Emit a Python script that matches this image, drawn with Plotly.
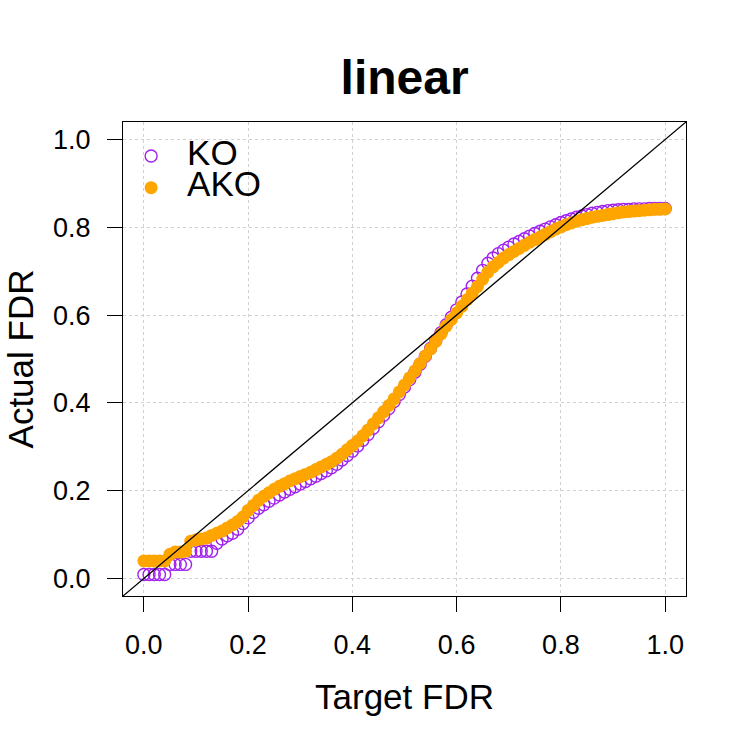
import plotly.graph_objects as go

# Target FDR grid (0.00 .. 1.00 by 0.01)
target_fdr = [round(i / 100, 2) for i in range(101)]

ko_fdr = [
    0.009, 0.009, 0.009, 0.009, 0.009, 0.032, 0.032, 0.032, 0.032, 0.062,
    0.062, 0.062, 0.062, 0.062, 0.080, 0.090, 0.097, 0.103, 0.112, 0.125,
    0.138, 0.150, 0.160, 0.168, 0.176, 0.183, 0.190, 0.197, 0.203, 0.209,
    0.215, 0.221, 0.227, 0.233, 0.239, 0.245, 0.252, 0.260, 0.270, 0.280,
    0.290, 0.302, 0.315, 0.328, 0.342, 0.357, 0.372, 0.387, 0.403, 0.419,
    0.436, 0.453, 0.470, 0.488, 0.506, 0.524, 0.542, 0.560, 0.578, 0.595,
    0.612, 0.630, 0.648, 0.666, 0.684, 0.702, 0.718, 0.730, 0.740, 0.748,
    0.755, 0.762, 0.768, 0.774, 0.780, 0.786, 0.791, 0.796, 0.801, 0.806,
    0.811, 0.815, 0.819, 0.823, 0.826, 0.829, 0.832, 0.834, 0.836, 0.838,
    0.839, 0.840, 0.841, 0.841, 0.842, 0.842, 0.842, 0.843, 0.843, 0.843,
    0.843,
]

ako_fdr = [
    0.040, 0.040, 0.040, 0.040, 0.040, 0.055, 0.060, 0.060, 0.062, 0.085,
    0.088, 0.090, 0.092, 0.098, 0.103, 0.108, 0.115, 0.122, 0.130, 0.140,
    0.155, 0.166, 0.178, 0.187, 0.195, 0.203, 0.210, 0.216, 0.222, 0.227,
    0.232, 0.237, 0.242, 0.248, 0.254, 0.260, 0.266, 0.274, 0.283, 0.293,
    0.303, 0.313, 0.325, 0.338, 0.352, 0.366, 0.380, 0.394, 0.409, 0.425,
    0.441, 0.457, 0.473, 0.490, 0.507, 0.523, 0.540, 0.557, 0.575, 0.590,
    0.605, 0.620, 0.635, 0.650, 0.665, 0.682, 0.698, 0.710, 0.720, 0.730,
    0.738, 0.745, 0.752, 0.759, 0.766, 0.772, 0.778, 0.784, 0.790, 0.796,
    0.801, 0.806, 0.810, 0.814, 0.817, 0.820, 0.823, 0.825, 0.827, 0.829,
    0.831, 0.833, 0.835, 0.836, 0.837, 0.838, 0.839, 0.840, 0.841, 0.841,
    0.842,
]

tick_vals = [0.0, 0.2, 0.4, 0.6, 0.8, 1.0]
tick_text = ["0.0", "0.2", "0.4", "0.6", "0.8", "1.0"]
axis_range = [-0.04, 1.04]

FONT = "Liberation Sans, Arial, Helvetica, sans-serif"

fig = go.Figure()

fig.add_trace(go.Scatter(
    x=target_fdr, y=ko_fdr, mode="markers",
    name="<span style='font-size:35px'>KO</span>",
    marker=dict(symbol="circle-open", size=12, color="#A020F0",
                line=dict(width=1.4, color="#A020F0")),
))
fig.add_trace(go.Scatter(
    x=target_fdr, y=ako_fdr, mode="markers",
    name="<span style='font-size:35px'>AKO</span>",
    marker=dict(symbol="circle", size=13, color="#FFA500",
                line=dict(width=0)),
))

# y = x reference line across the whole plotting region
fig.add_shape(type="line", xref="x", yref="y",
              x0=axis_range[0], y0=axis_range[0],
              x1=axis_range[1], y1=axis_range[1],
              line=dict(color="black", width=1.3), layer="above")

axis_common = dict(
    range=axis_range, tickvals=tick_vals, ticktext=tick_text,
    showgrid=True, gridcolor="#d0d0d0", griddash="dot", gridwidth=1,
    zeroline=False, showline=True, linecolor="black", linewidth=1.3,
    mirror=True, ticks="outside", ticklen=15, tickwidth=1.3,
    tickcolor="black", tickfont=dict(family=FONT, size=27, color="black"),
)

fig.update_layout(
    width=750, height=750,
    margin=dict(l=123, r=64, t=122, b=154),
    paper_bgcolor="white", plot_bgcolor="white",
    title=dict(text="<b>linear</b>", x=0.5395, xanchor="center",
               y=0.897, yanchor="middle",
               font=dict(family=FONT, size=48, color="black")),
    xaxis=dict(**axis_common,
               title=dict(text="Target FDR", standoff=25,
                          font=dict(family=FONT, size=35, color="black"))),
    yaxis=dict(**axis_common,
               title=dict(text="Actual FDR", standoff=8,
                          font=dict(family=FONT, size=35, color="black"))),
    showlegend=True,
    legend=dict(x=-0.014, y=0.972, xanchor="left", yanchor="top",
                bgcolor="rgba(0,0,0,0)", borderwidth=0,
                itemwidth=62, font=dict(family=FONT, size=22, color="black"),
                tracegroupgap=0),
)
fig.update_xaxes(ticklabelstandoff=9)
fig.update_yaxes(ticklabelstandoff=11)

fig.write_html("out.html")
